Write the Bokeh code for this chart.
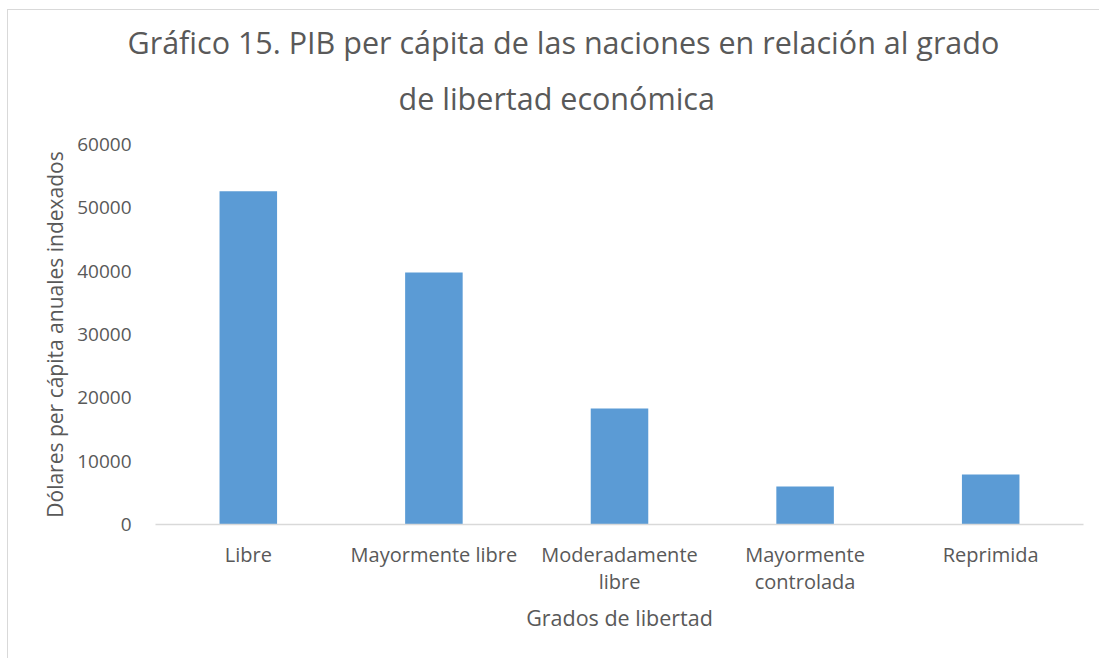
from bokeh.plotting import figure
from bokeh.models import Range1d, FactorRange, FixedTicker, CategoricalAxis, Title
from bokeh.embed import file_html
from bokeh.resources import INLINE

categories = ["Libre", "Mayormente libre", "Moderadamente libre", "Mayormente controlada", "Reprimida"]
label_line1 = ["Libre", "Mayormente libre", "Moderadamente", "Mayormente", "Reprimida"]
label_line2 = [" ", "  ", "libre", "controlada", "   "]
values = [52600, 39800, 18300, 6000, 7900]
y_ticks = [0, 10000, 20000, 30000, 40000, 50000, 60000]
title_lines = ["Gráfico 15. PIB per cápita de las naciones en relación al grado",
               "de libertad económica"]

FONT = "Open Sans"
TXT = "#595959"
W, H = 1099, 658

p = figure(x_range=FactorRange(factors=categories, range_padding=0), width=W, height=H,
           output_backend="svg", toolbar_location=None, min_border_left=155,
           min_border_right=16, min_border_bottom=134, min_border_top=144)
p.y_range = Range1d(0, 60000)
p.extra_x_ranges = {"l1": FactorRange(factors=label_line1, range_padding=0),
                    "l2": FactorRange(factors=label_line2, range_padding=0)}

p.vbar(x=categories, top=values, width=0.31, color="#5b9bd5", line_color=None)


def make_title(text, standoff, offset, lh):
    t = Title(text=text, align="left", text_font=FONT, text_font_size="30.5px",
              text_color=TXT, text_font_style="normal")
    try:
        t.standoff = standoff
    except Exception:
        t.standoff = 0
    try:
        t.offset = offset
    except Exception:
        t.offset = 0
    try:
        t.text_line_height = lh
    except Exception:
        pass
    return t


p.add_layout(make_title(title_lines[1], 51, 243, 1.0), "above")
p.add_layout(make_title(title_lines[0], -26, -28, 0.7), "above")

p.outline_line_color = None
p.background_fill_color = "white"
p.border_fill_color = "white"
p.border_fill_alpha = 0
p.styles = {
    "background-color": "white",
    "background-image": "linear-gradient(#d9d9d9, #d9d9d9), linear-gradient(#d9d9d9, #d9d9d9)",
    "background-size": "1px 100%, 100% 1px",
    "background-position": "7px 9px, 7px 9px",
    "background-repeat": "no-repeat",
}
p.xgrid.grid_line_color = None
p.ygrid.grid_line_color = None

p.yaxis.ticker = FixedTicker(ticks=y_ticks)
p.yaxis.axis_line_color = None
p.yaxis.major_tick_line_color = None
p.yaxis.minor_tick_line_color = None
p.yaxis.major_label_standoff = 18
p.yaxis.major_label_text_font = FONT
p.yaxis.major_label_text_font_size = "19px"
p.yaxis.major_label_text_color = TXT
p.yaxis.axis_label = "Dólares per cápita anuales indexados"
p.yaxis.axis_label_text_font = FONT
p.yaxis.axis_label_text_font_size = "21px"
p.yaxis.axis_label_text_font_style = "normal"
p.yaxis.axis_label_text_color = TXT
p.yaxis.axis_label_standoff = 5

xa = p.xaxis[0]
xa.x_range_name = "l1"
xa.axis_line_color = "#d9d9d9"
xa.axis_line_width = 1.5
xa.major_tick_line_color = None
xa.minor_tick_line_color = None
xa.major_label_standoff = 10
xa.major_label_text_font = FONT
xa.major_label_text_font_size = "20px"
xa.major_label_text_color = TXT

xb = CategoricalAxis(x_range_name="l2", axis_line_color=None, major_tick_line_color=None,
                     minor_tick_line_color=None,
                     major_label_text_font=FONT, major_label_text_font_size="20px",
                     major_label_text_color=TXT,
                     axis_label="Grados de libertad", axis_label_text_font=FONT,
                     axis_label_text_font_size="21.5px", axis_label_text_font_style="normal",
                     axis_label_text_color=TXT, axis_label_standoff=5)
try:
    xb.major_label_standoff = -9
except Exception:
    xb.major_label_standoff = 0
p.add_layout(xb, "below")

open("out.html", "w").write(file_html(p, INLINE))
